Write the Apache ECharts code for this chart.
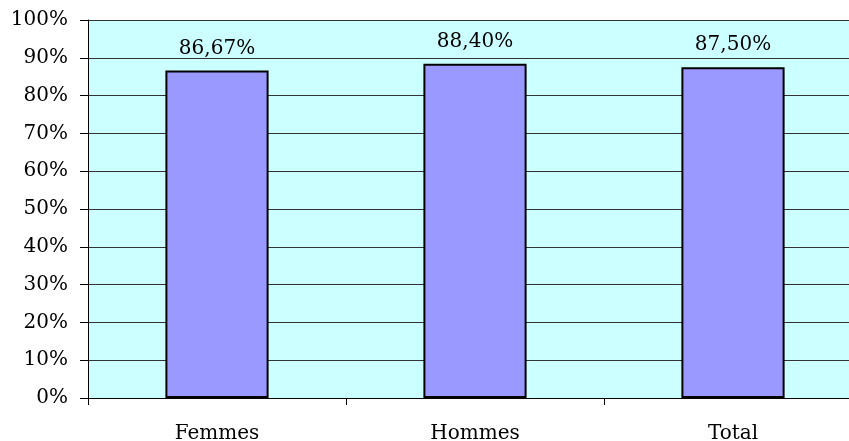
<!DOCTYPE html>
<html><head><meta charset="utf-8">
<script src="https://cdn.jsdelivr.net/npm/echarts@6/dist/echarts.min.js"></script>
<style>html,body{margin:0;padding:0;background:#fff}#c{width:849px;height:441px}</style>
</head><body><div id="c"></div>
<script>
const categories = ["Femmes", "Hommes", "Total"];
const values = [86.67, 88.40, 87.50];
const yTicks = [0, 10, 20, 30, 40, 50, 60, 70, 80, 90, 100];

const font = "DejaVu Serif";
const chart = echarts.init(document.getElementById('c'), null, {renderer: 'canvas'});
chart.setOption({
  animation: false,
  grid: {left: 88, top: 20, bottom: 43, width: 774, outerBoundsMode: 'none', containLabel: false,
    show: true, backgroundColor: '#CCFFFF', borderWidth: 0},
  xAxis: {
    type: 'category', data: categories,
    axisLine: {lineStyle: {color: '#000', width: 1}},
    axisTick: {show: true, length: 7, lineStyle: {color: '#000'}},
    axisLabel: {fontFamily: font, fontSize: 20, color: '#000', margin: 26}
  },
  yAxis: {
    type: 'value', min: 0, max: 100, interval: 10,
    axisLine: {show: true, lineStyle: {color: '#000', width: 1}},
    axisTick: {show: true, length: 8, lineStyle: {color: '#000'}},
    splitLine: {show: true, lineStyle: {color: '#333', width: 1}},
    axisLabel: {fontFamily: font, fontSize: 20, color: '#000', margin: 20,
      formatter: v => yTicks.includes(v) ? v + '%' : ''}
  },
  series: [{
    type: 'bar', data: values, barWidth: '40%',
    itemStyle: {color: '#9999FF', borderColor: '#000', borderWidth: 2},
    label: {show: true, position: 'top', distance: 12, fontFamily: font, fontSize: 20, color: '#000',
      formatter: p => p.value.toFixed(2).replace('.', ',') + '%'}
  }]
});
</script></body></html>
